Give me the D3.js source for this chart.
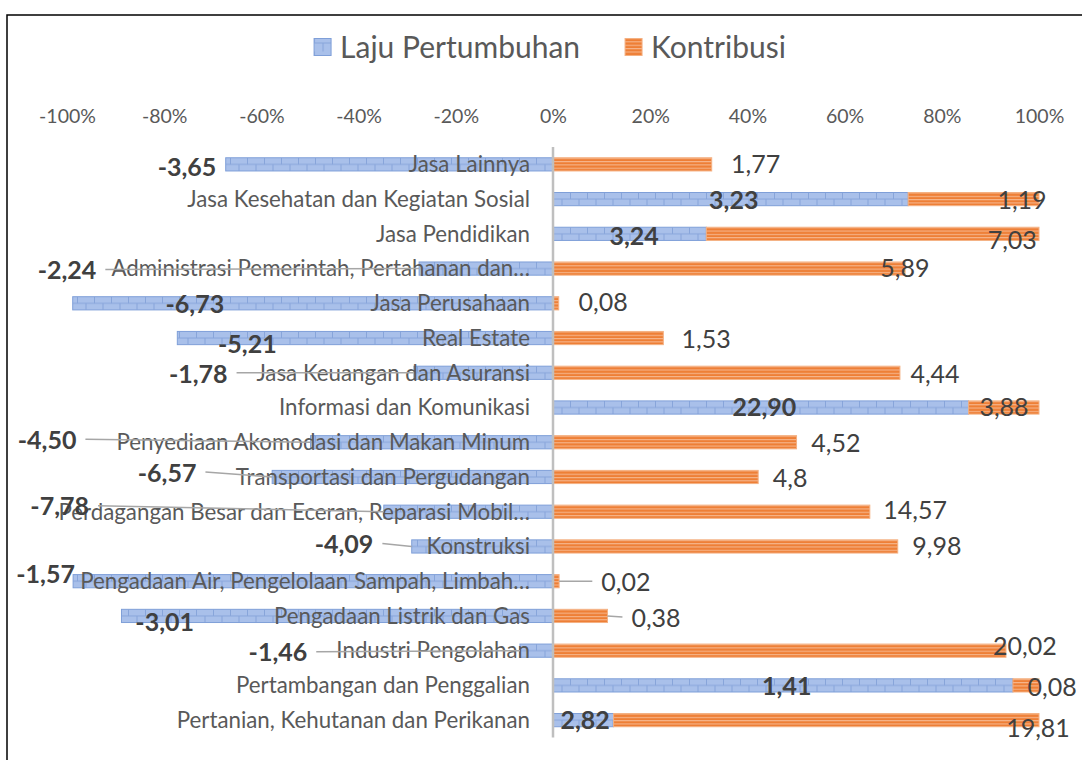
<!DOCTYPE html>
<html>
<head>
<meta charset="utf-8">
<script src="https://cdn.jsdelivr.net/npm/d3@7"></script>
<style>
  body { margin: 0; background: #fff; }
  svg { display: block; font-family: Lato, "Open Sans", sans-serif; }
</style>
</head>
<body>
<div id="chart"></div>
<script>
// categories, top to bottom
var categories = [
  "Jasa Lainnya",
  "Jasa Kesehatan dan Kegiatan Sosial",
  "Jasa Pendidikan",
  "Administrasi Pemerintah, Pertahanan dan\u2026",
  "Jasa Perusahaan",
  "Real Estate",
  "Jasa Keuangan dan Asuransi",
  "Informasi dan Komunikasi",
  "Penyediaan Akomodasi dan Makan Minum",
  "Transportasi dan Pergudangan",
  "Perdagangan Besar dan Eceran, Reparasi Mobil\u2026",
  "Konstruksi",
  "Pengadaan Air, Pengelolaan Sampah, Limbah\u2026",
  "Pengadaan Listrik dan Gas",
  "Industri Pengolahan",
  "Pertambangan dan Penggalian",
  "Pertanian, Kehutanan dan Perikanan"
];

var seriesNames = ["Laju Pertumbuhan", "Kontribusi"];

var growth = [-3.65, 3.23, 3.24, -2.24, -6.73, -5.21, -1.78, 22.90, -4.50,
              -6.57, -7.78, -4.09, -1.57, -3.01, -1.46, 1.41, 2.82];

var contribution = [1.77, 1.19, 7.03, 5.89, 0.08, 1.53, 4.44, 3.88, 4.52,
                    4.8, 14.57, 9.98, 0.02, 0.38, 20.02, 0.08, 19.81];

var tickValues = [-1, -0.8, -0.6, -0.4, -0.2, 0, 0.2, 0.4, 0.6, 0.8, 1];

// where the (hand placed) data labels sit: [share on the x axis, px below row centre]
var growthLabelSpot = [[-0.753, 3], [0.372, 1], [0.167, 2], [-1.0, 2], [-0.737, 1],
  [-0.629, 6], [-0.730, 1], [0.435, 0], [-1.041, -2], [-0.794, -4], [-1.015, -5],
  [-0.430, -2], [-1.044, -7], [-0.799, 6], [-0.566, 2], [0.481, 1], [0.066, 0]];
var contribLabelSpot = [[0.417, 0], [0.965, 1], [0.945, 6], [0.724, 0], [0.103, -1],
  [0.315, 1], [0.786, 1], [0.928, 0], [0.582, 1], [0.488, 1], [0.745, -1],
  [0.790, 0], [0.150, 1], [0.212, 2], [0.971, -4], [1.027, 2], [0.998, 8]];
// labels that were dragged away and got a leader line
var growthLeaders = [3, 6, 8, 9, 10, 11, 14];
var contribLeaders = [12, 13];

var width = 1082, height = 760;

var locale = d3.formatLocale({decimal: ",", thousands: ".", grouping: [3], currency: ["", ""], minus: "-"});
var fmtPct = locale.format(".0%"),
    fmtGrowth = locale.format(".2f"),
    fmtContrib = locale.format(".2~f");

// 100% stacked: each value as a share of |growth| + |contribution|
var rows = categories.map(function(c, i) {
  var total = Math.abs(growth[i]) + Math.abs(contribution[i]);
  return {cat: c, i: i, growth: growth[i] / total, contribution: contribution[i] / total};
});
var series = d3.stack().keys(["growth", "contribution"]).offset(d3.stackOffsetDiverging)(rows);

var x = d3.scaleLinear().domain([-1, 1]).range([67, 1039]);
var y = d3.scaleBand().domain(categories).range([147, 737.5]).paddingInner(0.62).paddingOuter(0.31);
var bh = y.bandwidth();
function mid(c) { return y(c) + bh / 2; }

var svg = d3.select("#chart").append("svg")
    .attr("width", width)
    .attr("height", height);

svg.append("rect").attr("width", width).attr("height", height).attr("fill", "#fff");
svg.append("rect")
    .attr("x", 7).attr("y", 15)
    .attr("width", width).attr("height", height)
    .attr("fill", "none").attr("stroke", "#000").attr("stroke-width", 1.5);

var defs = svg.append("defs");

function brickPattern(id, x0, y0, h) {
  var p = defs.append("pattern").attr("id", id)
      .attr("patternUnits", "userSpaceOnUse")
      .attr("x", x0).attr("y", y0).attr("width", 17).attr("height", h);
  p.append("rect").attr("width", 17).attr("height", h).attr("fill", "#a9c0ea");
  var m = h / 2;
  p.append("path")
      .attr("d", "M0," + m + "H17M0.5,0V" + m + "M9," + m + "V" + h)
      .attr("stroke", "#88a5da").attr("stroke-width", 1).attr("fill", "none");
}

function stripePattern(id, y0, h, n) {
  var p = defs.append("pattern").attr("id", id)
      .attr("patternUnits", "userSpaceOnUse")
      .attr("x", 0).attr("y", y0).attr("width", 8).attr("height", h / n);
  p.append("rect").attr("width", 8).attr("height", h / n).attr("fill", "#ee7f36");
  p.append("rect").attr("width", 8).attr("height", 1.1).attr("fill", "#f6b58b");
}

categories.forEach(function(c, i) {
  brickPattern("brick" + i, x(0), y(c), bh);
  stripePattern("stripe" + i, y(c), bh, 4);
});

// bars
var fills = ["brick", "stripe"], strokes = ["#7f9fd8", "#f4b183"];
svg.append("g").selectAll("g")
  .data(series)
  .join("g")
  .each(function(s, k) {
    d3.select(this).selectAll("rect")
      .data(s)
      .join("rect")
        .attr("x", function(d) { return x(d[0]); })
        .attr("y", function(d) { return y(d.data.cat); })
        .attr("width", function(d) { return x(d[1]) - x(d[0]); })
        .attr("height", bh)
        .attr("fill", function(d) { return "url(#" + fills[k] + d.data.i + ")"; })
        .attr("stroke", strokes[k])
        .attr("stroke-width", 1);
  });

// zero line
svg.append("line")
    .attr("x1", x(0)).attr("x2", x(0))
    .attr("y1", y.range()[0]).attr("y2", y.range()[1])
    .attr("stroke", "#bfbfbf").attr("stroke-width", 2.5);

// percent axis on top
svg.append("g")
    .attr("transform", "translate(0,123)")
    .call(d3.axisTop(x).tickValues(tickValues).tickFormat(fmtPct).tickSize(0).tickPadding(0))
    .call(function(g) { g.select(".domain").remove(); })
    .attr("font-family", null)
    .attr("font-size", "19.5px")
    .selectAll("text").attr("fill", "#595959");

// category labels next to the zero line
svg.append("g").selectAll("text")
  .data(categories)
  .join("text")
    .attr("x", x(0) - 23)
    .attr("y", mid)
    .attr("dy", "0.35em")
    .attr("text-anchor", "end")
    .attr("font-size", "22.3px")
    .attr("fill", "#595959")
    .text(function(d) { return d; });

// data labels
var leaderG = svg.append("g");
var labelG = svg.append("g").attr("font-size", "25px").attr("fill", "#404040");

var gLabels = labelG.append("g").attr("font-weight", "bold").selectAll("text")
  .data(series[0])
  .join("text")
    .attr("x", function(d) { return x(growthLabelSpot[d.data.i][0]); })
    .attr("y", function(d) { return mid(d.data.cat) + growthLabelSpot[d.data.i][1]; })
    .attr("dy", "0.35em")
    .attr("text-anchor", "middle")
    .text(function(d) { return fmtGrowth(growth[d.data.i]); });

var cLabels = labelG.append("g").selectAll("text")
  .data(series[1])
  .join("text")
    .attr("x", function(d) { return x(contribLabelSpot[d.data.i][0]); })
    .attr("y", function(d) { return mid(d.data.cat) + contribLabelSpot[d.data.i][1]; })
    .attr("dy", "0.35em")
    .attr("text-anchor", "middle")
    .text(function(d) { return fmtContrib(contribution[d.data.i]); });

gLabels.filter(function(d) { return growthLeaders.indexOf(d.data.i) >= 0; })
  .each(function(d) {
    var w = this.getComputedTextLength();
    var lx = x(growthLabelSpot[d.data.i][0]) + w / 2 + 9;
    leaderG.append("line")
        .attr("x1", lx).attr("y1", mid(d.data.cat) + growthLabelSpot[d.data.i][1] - 1)
        .attr("x2", x(d[0])).attr("y2", mid(d.data.cat))
        .attr("stroke", "#a6a6a6").attr("stroke-width", 1.5);
  });

cLabels.filter(function(d) { return contribLeaders.indexOf(d.data.i) >= 0; })
  .each(function(d) {
    var w = this.getComputedTextLength();
    var lx = x(contribLabelSpot[d.data.i][0]) - w / 2 - 9;
    leaderG.append("line")
        .attr("x1", x(d[1])).attr("y1", mid(d.data.cat))
        .attr("x2", lx).attr("y2", mid(d.data.cat) + contribLabelSpot[d.data.i][1] - 1)
        .attr("stroke", "#a6a6a6").attr("stroke-width", 1.5);
  });

// legend
brickPattern("brickL", 0, 38.5, 17);
stripePattern("stripeL", 38.5, 17, 5);

var legend = svg.append("g").attr("font-size", "30px").attr("fill", "#595959");
var items = legend.selectAll("g")
  .data(seriesNames)
  .join("g");
items.append("rect")
    .attr("y", -8.5).attr("width", 17).attr("height", 17)
    .attr("fill", function(d, i) { return i ? "url(#stripeL)" : "url(#brickL)"; })
    .attr("stroke", function(d, i) { return strokes[i]; });
items.append("text")
    .attr("x", 26)
    .attr("dy", "0.35em")
    .text(function(d) { return d; });

var pos = 0;
items.each(function() {
  var w = this.getBBox().width;
  d3.select(this).attr("transform", "translate(" + pos + ",47)");
  pos += w + 45;
});
legend.attr("transform", "translate(" + (550 - (pos - 45) / 2) + ",0)");
</script>
</body>
</html>
